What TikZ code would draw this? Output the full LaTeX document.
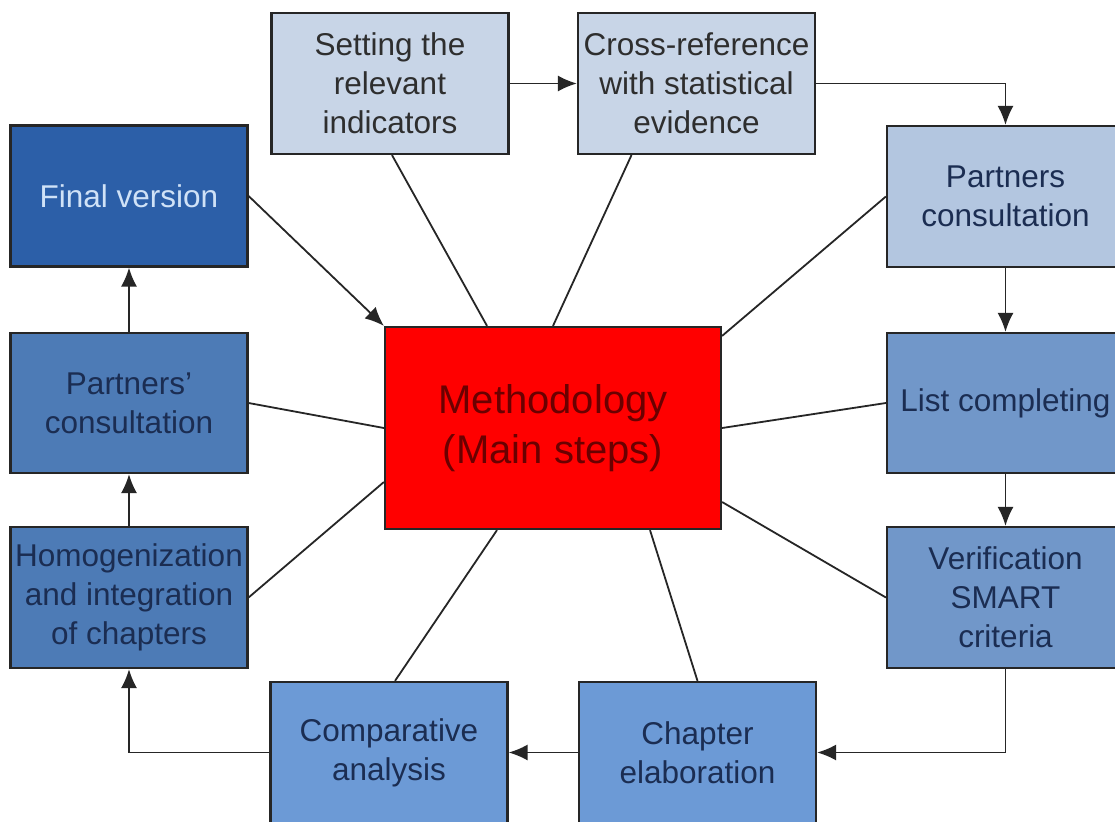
\documentclass[tikz,border=0pt]{standalone}
\usepackage{fontspec}
\setmainfont{Liberation Sans}
\usepackage{tikz}
\usetikzlibrary{arrows.meta}

\definecolor{lineclr}{HTML}{262626}
\definecolor{paleblue}{HTML}{C8D5E7}
\definecolor{softblue}{HTML}{B3C6E0}
\definecolor{midblue}{HTML}{7197C9}
\definecolor{brightblue}{HTML}{6C9AD6}
\definecolor{deepblue}{HTML}{4D7BB6}
\definecolor{finalblue}{HTML}{2C5FA8}
\definecolor{navytext}{HTML}{1B2D52}
\definecolor{greytext}{HTML}{2E2E2E}
\definecolor{finaltext}{HTML}{D0E2F7}
\definecolor{redtext}{HTML}{6A0000}

\begin{document}
\begin{tikzpicture}[x=1pt, y=-1pt,
    box/.style={draw=lineclr, line width=2.2pt, minimum width=237pt, minimum height=141pt,
        inner sep=0pt, align=center, text=navytext, font=\fontsize{31.5}{39}\selectfont},
    link/.style={draw=lineclr, line width=1.8pt},
    flow/.style={link, -{Latex[length=19pt,width=16pt]}}]
    \clip (0,0) rectangle (1115,821);
    \fill[white] (0,0) rectangle (1115,821);

    \node [box, fill=paleblue, text=greytext] (set) at (390,83.5) {Setting the\\relevant\\indicators};
    \node [box, fill=paleblue, text=greytext] (cross) at (696.5,83.5) {Cross-reference\\with statistical\\evidence};
    \node [box, fill=softblue] (pcons) at (1005.5,196.5) {Partners\\consultation};
    \node [box, fill=midblue, minimum height=140pt] (list) at (1005.5,403) {List completing};
    \node [box, fill=midblue] (verif) at (1005.5,597.5) {Verification\\SMART\\criteria};
    \node [box, fill=brightblue] (chap) at (697.5,752.5) {Chapter\\elaboration};
    \node [box, fill=brightblue] (comp) at (389,752.5) {Comparative\\analysis};
    \node [box, fill=deepblue] (homog) at (129,597.5) {Homogenization\\and integration\\of chapters};
    \node [box, fill=deepblue, minimum height=140pt] (ppc) at (129,403) {Partners'\\consultation};
    \node [box, fill=finalblue, text=finaltext] (final) at (129,196) {Final version};

    \node [box, fill=red, text=redtext, minimum width=336pt, minimum height=202pt,
        font=\fontsize{40}{50}\selectfont] (meth) at (553,428) {Methodology\\(Main steps)};

    \draw [link] ([xshift=2]set.south) -- ([xshift=-66]meth.north);
    \draw [link] ([xshift=-65]cross.south) -- (meth.north);
    \draw [link] (pcons.west) -- ([yshift=-10]meth.north east);
    \draw [link] (list.west) -- (meth.east);
    \draw [link] (verif.west) -- ([yshift=-74]meth.east);
    \draw [link] (chap.north) -- ([xshift=97]meth.south);
    \draw [link] ([xshift=6]comp.north) -- ([xshift=-56]meth.south);
    \draw [link] (homog.east) -- ([yshift=-54]meth.west);
    \draw [link] (ppc.east) -- (meth.west);
    \draw [flow] (final.east) -- (meth.north west);

    \draw [flow] (set.east) -- (cross.west);
    \draw [flow] (cross.east) -| (pcons.north);
    \draw [flow] (pcons.south) -- (list.north);
    \draw [flow] (list.south) -- (verif.north);
    \draw [flow] (verif.south) |- (chap.east);
    \draw [flow] (chap.west) -- (comp.east);
    \draw [flow] (comp.west) -| (homog.south);
    \draw [flow] (homog.north) -- (ppc.south);
    \draw [flow] (ppc.north) -- (final.south);

\end{tikzpicture}
\end{document}
